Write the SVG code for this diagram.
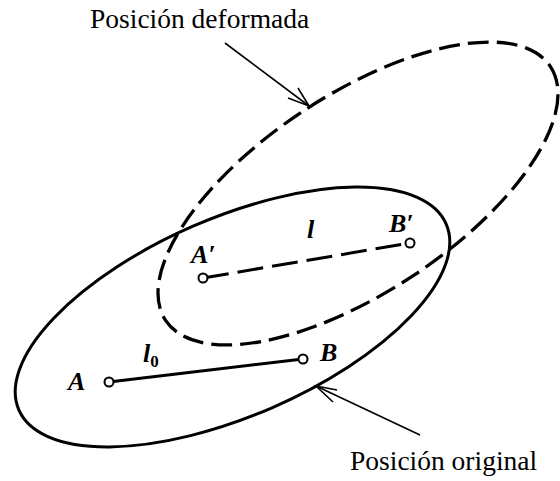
<svg xmlns="http://www.w3.org/2000/svg" width="560" height="481" viewBox="0 0 560 481">
<style>
.caption{font-family:'Liberation Serif','Times New Roman','DejaVu Serif',serif;font-size:27.5px;fill:#000}
.lbl{font-family:'Liberation Serif','Times New Roman','DejaVu Serif',serif;font-size:26px;font-style:italic;font-weight:bold;fill:#000}
.sub{font-size:17px;font-style:normal}
.solid{fill:none;stroke:#000;stroke-width:3}
.dash{fill:none;stroke:#000;stroke-width:3.3;stroke-dasharray:21 8}
.ptr{fill:none;stroke:#000;stroke-width:1.6}
.pt{fill:#fff;stroke:#000;stroke-width:2}
</style>
<rect width="560" height="481" fill="#fff"/>
<g id="original">
<ellipse class="solid" cx="232.5" cy="317" rx="233" ry="99" transform="rotate(-23.5 232.5 317)"/>
</g>
<g id="deformada">
<ellipse class="dash" cx="358" cy="193.5" rx="230.5" ry="99" transform="rotate(-33.4 358 193.5)"/>
</g>
<g id="connectors">
<line class="solid" x1="109" y1="382" x2="303" y2="359"/>
<line class="dash" x1="203" y1="278" x2="410" y2="243" style="stroke-dasharray:26 9;stroke-width:3"/>
<line class="ptr" x1="225" y1="43" x2="309" y2="106"/>
<path class="ptr" d="M288 98 L309 106 L298 88"/>
<line class="ptr" x1="420" y1="435" x2="316" y2="386"/>
<path class="ptr" d="M337 390 L316 386 L333 402"/>
</g>
<g id="A"><circle class="pt" cx="109" cy="382" r="4.5"/><text class="lbl" x="68" y="390">A</text></g>
<g id="B"><circle class="pt" cx="303" cy="359" r="4.5"/><text class="lbl" x="320" y="361">B</text></g>
<g id="A2"><circle class="pt" cx="203" cy="278" r="4.5"/><text class="lbl" x="191" y="263">A′</text></g>
<g id="B2"><circle class="pt" cx="410" cy="243" r="4.5"/><text class="lbl" x="389" y="232">B′</text></g>
<g id="l"><text class="lbl" x="307" y="238">l</text></g>
<g id="l0"><text class="lbl" x="143" y="362">l<tspan class="sub" dy="5">0</tspan></text></g>
<g id="captions">
<text class="caption" x="90" y="28">Posición deformada</text>
<text class="caption" x="350" y="470">Posición original</text>
</g>
</svg>
